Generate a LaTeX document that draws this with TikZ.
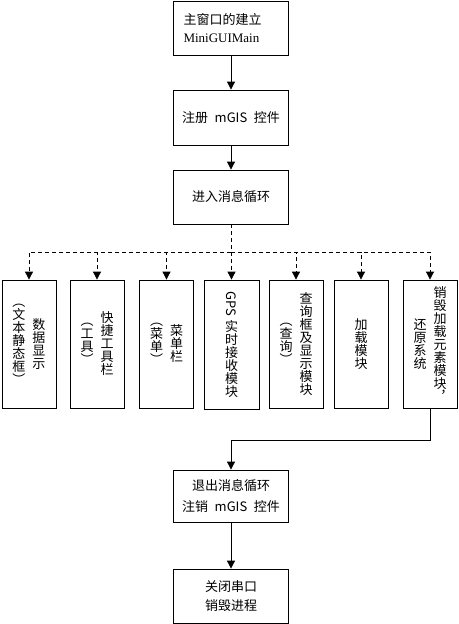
\documentclass[tikz,border=0pt]{standalone}
\usepackage{fontspec}
\setmainfont{Noto Sans CJK SC}
\newfontfamily\latinserif{Liberation Serif}
\usetikzlibrary{arrows.meta}
\pgfdeclarelayer{edgelayer}
\pgfdeclarelayer{nodelayer}
\pgfsetlayers{edgelayer,nodelayer,main}
\tikzset{font=\fontsize{13}{13.5}\selectfont}
\tikzstyle{none}=[inner sep=0pt]
\tikzstyle{hbox}=[draw,line width=0.8pt,minimum width=115pt,inner sep=0pt,align=center]
\tikzstyle{vbox}=[draw,line width=0.8pt,minimum width=54pt,minimum height=128pt,inner sep=0pt]
\tikzstyle{flow}=[line width=0.8pt,-{Triangle[width=8pt,length=8pt]}]
\tikzstyle{branch}=[flow,dash pattern=on 4pt off 3pt]
\makeatletter
\newcommand{\vcol}[1]{$\vcenter{\baselineskip=13pt\lineskiplimit=0pt\lineskip=4pt
	\@tfor\vc@ch:=#1\do{\hbox to 14pt{\hss\vc@ch\hss}}}$}
\makeatother

\begin{document}
\begin{tikzpicture}[x=1pt,y=-1pt]
	\useasboundingbox (0,0) rectangle (458,624);
	\begin{pgfonlayer}{nodelayer}
		\node [style=hbox,text width=95pt,inner xsep=10pt,minimum height=54pt,align=left] (0) at (231, 28) {主窗口的建立\\[4pt]{\latinserif MiniGUIMain}};
		\node [style=hbox,minimum height=55pt] (1) at (231, 117.5) {注册\enspace mGIS\enspace 控件};
		\node [style=hbox,minimum height=54pt] (2) at (231, 197) {进入消息循环};
		\node [style=vbox] (3) at (29, 344) {\vcol{︵文本静态框︶}\hspace{6pt}\vcol{数据显示}};
		\node [style=vbox] (4) at (97, 344) {\vcol{︵工具︶}\hspace{6pt}\vcol{快捷工具栏}};
		\node [style=vbox] (5) at (166.5, 344) {\vcol{︵菜单︶}\hspace{6pt}\vcol{菜单栏}};
		\node [style=vbox,minimum width=55pt,minimum height=129pt] (6) at (231.5, 344.5) {\vcol{{\rotatebox[origin=c]{-90}{GPS}}实时接收模块}};
		\node [style=vbox] (7) at (296, 344) {\vcol{︵查询︶}\hspace{6pt}\vcol{查询框及显示模块}};
		\node [style=vbox] (8) at (361, 344) {\vcol{加载模块}};
		\node [style=vbox] (9) at (430, 344) {\vcol{还原系统}\hspace{6pt}\vcol{销毁加载元素模块︐}};
		\node [style=hbox,minimum height=52pt] (10) at (231, 496) {退出消息循环\\[8pt]注销\enspace mGIS\enspace 控件};
		\node [style=hbox,minimum height=54pt] (11) at (231, 596) {关闭串口\\[5pt]销毁进程};
		\node [style=none] (12) at (231, 252) {};
		\node [style=none] (13) at (231, 440) {};
	\end{pgfonlayer}
	\begin{pgfonlayer}{edgelayer}
		\draw [style=flow] (0) to (1);
		\draw [style=flow] (1) to (2);
		\foreach \k in {3,...,9}
			\draw [style=branch] (2) -- (12.center) -| (\k);
		\draw [style=flow] (9) |- (13.center) -- (10);
		\draw [style=flow] (10) to (11);
	\end{pgfonlayer}
\end{tikzpicture}
\end{document}
